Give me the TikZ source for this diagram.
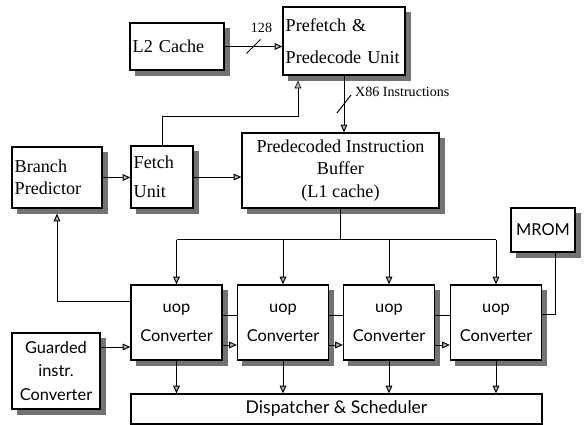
\documentclass[tikz,border=0pt]{standalone}
\usepackage{fontspec}
\setmainfont{Liberation Serif}
\newfontfamily\optfont{Lato}
\usetikzlibrary{arrows.meta,calc}
\colorlet{boxshade}{black!55}
\colorlet{tipfill}{black!30}
\tikzset{
  blk/.style={draw,line width=1.1pt,fill=white,inner sep=.8mm,
    font=\fontsize{15.5}{19}\selectfont},
  lblk/.style={blk,align=left},
  sblk/.style={blk,align=center,font=\optfont\fontsize{14}{18}\selectfont},
  shadowbox/.style={fill=boxshade},
  arr/.style={-{Triangle[length=2.3mm,width=2mm,fill=tipfill]},line width=.8pt},
  wire/.style={line width=.8pt},
  lbl/.style={font=\fontsize{12}{14}\selectfont,inner sep=0pt},
}
\begin{document}
\begin{tikzpicture}[x=.3mm,y=-.3mm]
  \useasboundingbox (0,0) rectangle (586,425);
  % front end
  \node[lblk,text width=26.6mm,minimum height=14.1mm] (l2) at (177,46.5) {L2 Cache};
  \node[lblk,text width=35mm,minimum height=20.4mm] (pre) at (344,41)
    {Prefetch \&\\[8pt]Predecode Unit};
  \node[lblk,text width=25.4mm,minimum height=18.3mm] (bp) at (57,177.5) {Branch\\Predictor};
  \node[lblk,text width=17mm,minimum height=18.6mm] (fu) at (162,177) {Fetch\\[6pt]Unit};
  \node[blk,align=center,minimum width=59.1mm,minimum height=22.5mm] (pib) at (340.5,170.5)
    {Predecoded Instruction\\Buffer\\(L1 cache)};
  \node[sblk,minimum width=19.2mm,minimum height=13.2mm] (mrom) at (543,230) {MROM};
  % decode row
  \foreach \i/\x in {1/176.5,2/283,3/389,4/496}
    \node[sblk,minimum width=27.3mm,minimum height=22.5mm] (c\i) at (\x,322.5) {uop\\[7pt]Converter};
  \node[sblk,minimum width=26.4mm,minimum height=22.8mm,font=\optfont\fontsize{14}{20}\selectfont]
    (gic) at (56,371) {Guarded\\instr.\\Converter};
  \node[draw,line width=1.1pt,minimum width=123.3mm,minimum height=9mm,
    font=\optfont\fontsize{15}{18}\selectfont] (ds) at (336.5,409) {Dispatcher \& Scheduler};
  % grey shadow bands, right and bottom
  \foreach \b in {l2,pre,bp,fu,pib,mrom,c1,c2,c3,c4,gic}{
    \fill[shadowbox] ([yshift=-1.6mm]\b.north east) rectangle ([shift={(1.6mm,-1.6mm)}]\b.south east);
    \fill[shadowbox] ([xshift=1.6mm]\b.south west) rectangle ([shift={(1.6mm,-1.6mm)}]\b.south east);
  }

  \draw[arr] (l2.east) -- (l2.east -| pre.west) coordinate[pos=.5] (b128);
  \draw[wire] (b128) +(-7,7) -- +(7,-7);
  \node[lbl] (n128) at ([shift={(8,-19)}]b128) {128};
  \draw[arr] (pre.south) -- (pre.south |- pib.north) coordinate[pos=.5] (b86);
  \draw[wire] (b86) +(-7,9) -- +(7,-9);
  \node[lbl,anchor=west] (n86) at ([shift={(11,-12)}]b86) {X86 Instructions};
  \coordinate (fk) at (298,116);
  \draw[arr,line width=.5pt,shorten >=1.5mm] (fu.north) |- (fk) -- (fk |- pre.south);
  \draw[arr] (bp.east) -- (bp.east -| fu.west);
  \draw[arr] (fu.east) -- (fu.east -| pib.west);

  % bus to the converters
  \coordinate (bus) at ($(pib.south)+(0,31)$);
  \draw[wire] (pib.south) -- (bus);
  \draw[wire] (c1.north |- bus) -- (c4.north |- bus);
  \foreach \i in {1,...,4}{
    \draw[arr] (c\i.north |- bus) -- (c\i.north);
    \draw[arr] (c\i.south) -- (c\i.south |- ds.north);
  }
  \foreach \i/\j in {1/2,2/3,3/4}{
    \draw[wire] ([yshift=2.25mm]c\i.east) -- ([yshift=2.25mm]c\j.west);
    \draw[arr] ([yshift=-6.75mm]c\i.east) -- ([yshift=-6.75mm]c\j.west);
  }
  \draw[wire] ([xshift=3.6mm]mrom.south) |- ([yshift=2.55mm]c4.east);
  \draw[arr,shorten >=1.5mm] ([yshift=6.45mm]c1.west) -| (bp.south);
  \coordinate (g1) at ([yshift=-7.35mm]c1.west);
  \draw[arr] (gic.east |- g1) -- (g1);
\end{tikzpicture}
\end{document}
